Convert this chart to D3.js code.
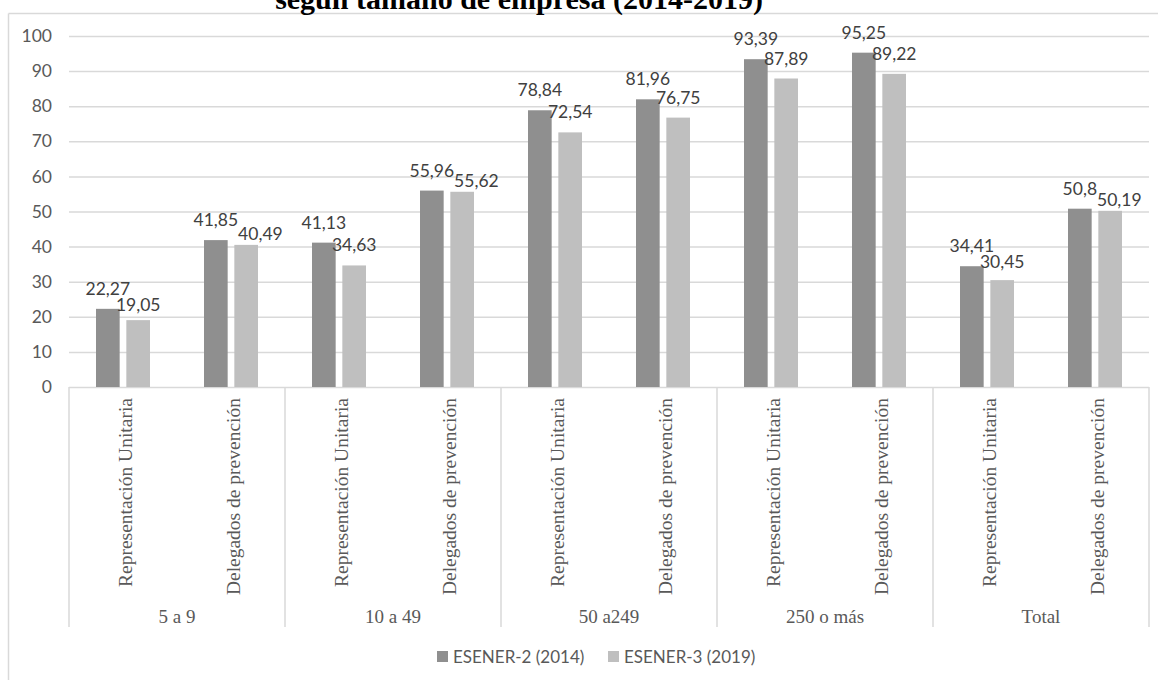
<!DOCTYPE html>
<html lang="es">
<head>
<meta charset="utf-8">
<script src="https://cdn.jsdelivr.net/npm/d3@7"></script>
<style>
  html, body { margin: 0; padding: 0; background: #fff; }
  svg { display: block; }
</style>
</head>
<body>
<svg id="chart" width="1161" height="680"></svg>
<script>
// Company-size groups, with two kinds of worker representation in each
const groups = ["5 a 9", "10 a 49", "50 a249", "250 o más", "Total"];
const repTypes = ["Representación Unitaria", "Delegados de prevención"];
const seriesNames = ["ESENER-2 (2014)", "ESENER-3 (2019)"];

// Percentages per (group, type), in the same order as groups × repTypes
const esener2014 = [22.27, 41.85, 41.13, 55.96, 78.84, 81.96, 93.39, 95.25, 34.41, 50.8];
const esener2019 = [19.05, 40.49, 34.63, 55.62, 72.54, 76.75, 87.89, 89.22, 30.45, 50.19];

const yTicks = [0, 10, 20, 30, 40, 50, 60, 70, 80, 90, 100];

const colors = ["#8f8f8f", "#bfbfbf"];
const gridColor = "#d9d9d9";
const textGray = "#595959";
const labelGray = "#404040";
const sansFont = "Lato, 'Open Sans', sans-serif";
const serifFont = "'Liberation Serif', 'Times New Roman', serif";

const svg = d3.select("#chart");

// One row per bar cluster
const rows = [];
groups.forEach((g, gi) => repTypes.forEach((t, ti) => {
  const i = gi * repTypes.length + ti;
  rows.push({ key: g + "|" + t, group: g, type: t, values: [esener2014[i], esener2019[i]] });
}));

const plot = { left: 69, right: 1149, top: 36, bottom: 387 };

const x0 = d3.scaleBand().domain(rows.map(r => r.key)).range([plot.left, plot.right]).padding(0);
const x1 = d3.scaleBand().domain(seriesNames).range([27, 81]).paddingInner(0.22);
const y = d3.scaleLinear().domain([0, 100]).range([plot.bottom, plot.top]);

// Outer frame (top and left edges)
svg.append("line").attr("x1", 8.5).attr("x2", 1158).attr("y1", 13.5).attr("y2", 13.5)
  .attr("stroke", gridColor).attr("stroke-width", 1.5);
svg.append("line").attr("x1", 8.5).attr("x2", 8.5).attr("y1", 13.5).attr("y2", 680)
  .attr("stroke", gridColor).attr("stroke-width", 1.5);

// Title line, partly cut by the top edge
svg.append("text")
  .attr("x", 519).attr("y", 9)
  .attr("text-anchor", "middle")
  .attr("font-family", serifFont).attr("font-weight", "bold").attr("font-size", 30)
  .attr("fill", "#000")
  .text("según tamaño de empresa (2014-2019)");

// Gridlines and y tick labels
const yAxis = d3.axisLeft(y).tickValues(yTicks).tickSize(-(plot.right - plot.left)).tickPadding(17);
const gy = svg.append("g").attr("transform", `translate(${plot.left},0)`).call(yAxis);
gy.select(".domain").remove();
gy.selectAll(".tick line").attr("stroke", gridColor).attr("stroke-width", 1.5)
  .filter(d => d === 0).remove();
gy.selectAll(".tick text")
  .attr("fill", textGray).attr("font-family", sansFont).attr("font-size", 17.5);

// Category axis: baseline, group separators, rotated type labels and group names
const axisG = svg.append("g");
axisG.append("line").attr("x1", plot.left).attr("x2", plot.right)
  .attr("y1", plot.bottom + 0.5).attr("y2", plot.bottom + 0.5)
  .attr("stroke", gridColor).attr("stroke-width", 1.5);

const groupEdges = groups.map((g, gi) => x0(rows[gi * repTypes.length].key)).concat([plot.right]);
axisG.selectAll("line.sep").data(groupEdges).join("line").attr("class", "sep")
  .attr("x1", d => d).attr("x2", d => d)
  .attr("y1", plot.bottom).attr("y2", 627)
  .attr("stroke", gridColor).attr("stroke-width", 1.5);

axisG.selectAll("text.cat").data(rows).join("text").attr("class", "cat")
  .attr("transform", d => `translate(${x0(d.key) + x0.bandwidth() / 2 + 2},${plot.bottom + 11}) rotate(-90)`)
  .attr("text-anchor", "end").attr("dy", "0.35em")
  .attr("font-family", serifFont).attr("font-size", 19.5).attr("fill", textGray)
  .text(d => d.type);

axisG.selectAll("text.grp").data(groups).join("text").attr("class", "grp")
  .attr("x", (g, gi) => (groupEdges[gi] + groupEdges[gi + 1]) / 2)
  .attr("y", 623)
  .attr("text-anchor", "middle")
  .attr("font-family", serifFont).attr("font-size", 19).attr("fill", textGray)
  .text(g => g);

// Bars
const clusters = svg.append("g").selectAll("g").data(rows).join("g")
  .attr("transform", d => `translate(${x0(d.key)},0)`);

clusters.selectAll("rect")
  .data(d => d.values.map((v, si) => ({ series: seriesNames[si], si, v })))
  .join("rect")
  .attr("x", d => x1(d.series))
  .attr("width", x1.bandwidth())
  .attr("y", d => y(d.v))
  .attr("height", d => y(0) - y(d.v))
  .attr("fill", d => colors[d.si]);

// Value labels (decimal comma). When the 2019 label would sit on top of the
// 2014 label, it is first lowered towards its bar, then pushed to the right.
const fmt = v => String(v).replace(".", ",");
const minLineGap = 15;
clusters.each(function (d) {
  const g = d3.select(this);
  const labels = d.values.map((v, si) => g.append("text")
    .attr("x", x1(seriesNames[si]) + x1.bandwidth() / 2)
    .attr("y", y(v) - 14)
    .attr("text-anchor", "middle")
    .attr("font-family", sansFont).attr("font-size", 17.5).attr("fill", labelGray)
    .text(fmt(v)));
  const [a, b] = labels;
  const hOverlap = () => {
    const ba = a.node().getBBox(), bb = b.node().getBBox();
    return ba.x + ba.width - bb.x;
  };
  const vGap = () => Math.abs(+a.attr("y") - +b.attr("y"));
  if (hOverlap() > 0 && vGap() < minLineGap) {
    b.attr("y", Math.min(y(d.values[1]) - 5, +a.attr("y") + minLineGap + 1));
    if (vGap() < minLineGap) {
      const h = hOverlap();
      if (h > 0) b.attr("x", +b.attr("x") + h);
    }
  }
});

// Legend
const legend = svg.append("g").attr("transform", "translate(437,651)");
const legendX = [0, 171];
seriesNames.forEach((name, si) => {
  const item = legend.append("g").attr("transform", `translate(${legendX[si]},0)`);
  item.append("rect").attr("width", 11).attr("height", 11).attr("fill", colors[si]);
  item.append("text").attr("x", 16).attr("y", 11.5)
    .attr("font-family", sansFont).attr("font-size", 17).attr("fill", textGray)
    .text(name);
});
</script>
</body>
</html>
